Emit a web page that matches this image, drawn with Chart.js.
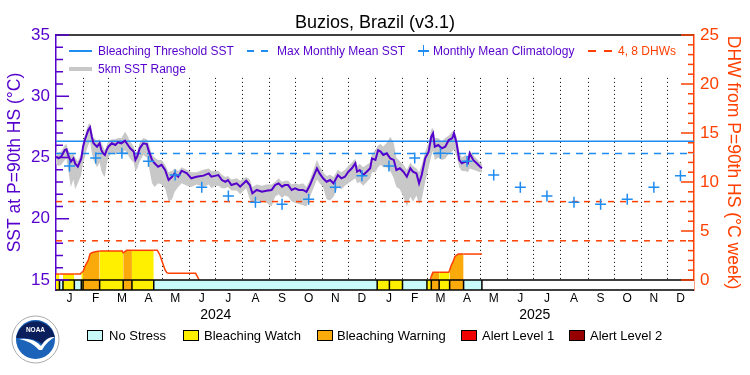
<!DOCTYPE html>
<html>
<head>
<meta charset="utf-8">
<script src="https://cdn.jsdelivr.net/npm/chart.js@4.4.1/dist/chart.umd.min.js"></script>
<style>
  body { margin: 0; background: #fff; font-family: 'Liberation Sans', Arial, sans-serif; }
  #wrap { position: relative; width: 750px; height: 375px; overflow: hidden; }
  canvas { position: absolute; left: 0; top: 0; }
  .t { position: absolute; white-space: nowrap; line-height: 1; }
  .top { font-size: 12px; color: #5500cc; }
  .bot { font-size: 13px; color: #000; }
  .ln { position: absolute; }
  .box { position: absolute; width: 16px; height: 11px; box-sizing: border-box; border: 1px solid #000; top: 330px; }
</style>
</head>
<body>
<div id="wrap">
  <canvas id="chart" width="750" height="375"></canvas>

  <!-- legend inside the plot -->
  <div class="ln" style="left:69px;top:50px;width:23px;height:1.5px;background:#1e8cf0"></div>
  <div class="t top" style="left:98px;top:44.5px">Bleaching Threshold SST</div>
  <div class="ln" style="left:247px;top:50px;width:7px;height:1.5px;background:#1e8cf0"></div>
  <div class="ln" style="left:261px;top:50px;width:7px;height:1.5px;background:#1e8cf0"></div>
  <div class="t top" style="left:277px;top:44.5px">Max Monthly Mean SST</div>
  <div class="ln" style="left:418px;top:50px;width:11px;height:1.5px;background:#1e8cf0"></div>
  <div class="ln" style="left:422.7px;top:45.3px;width:1.5px;height:11px;background:#1e8cf0"></div>
  <div class="t top" style="left:433px;top:44.5px">Monthly Mean Climatology</div>
  <div class="ln" style="left:588px;top:50px;width:8px;height:1.5px;background:#ff4000"></div>
  <div class="ln" style="left:604px;top:50px;width:8px;height:1.5px;background:#ff4000"></div>
  <div class="t top" style="left:618px;top:44.5px;color:#ff4000">4, 8 DHWs</div>
  <div class="ln" style="left:69px;top:67px;width:23px;height:4px;background:#c8c8c8"></div>
  <div class="t top" style="left:98px;top:62.5px">5km SST Range</div>

  <!-- stress legend -->
  <div class="box" style="left:87px;background:#c8fafa"></div>
  <div class="t bot" style="left:109px;top:329px">No Stress</div>
  <div class="box" style="left:183px;background:#fff000"></div>
  <div class="t bot" style="left:204px;top:329px">Bleaching Watch</div>
  <div class="box" style="left:317px;background:#faaa0a"></div>
  <div class="t bot" style="left:337px;top:329px">Bleaching Warning</div>
  <div class="box" style="left:461px;background:#f00000"></div>
  <div class="t bot" style="left:482px;top:329px">Alert Level 1</div>
  <div class="box" style="left:569px;background:#960000"></div>
  <div class="t bot" style="left:590px;top:329px">Alert Level 2</div>

  <!-- NOAA emblem -->
  <svg style="position:absolute;left:11px;top:315px" width="49" height="49" viewBox="0 0 49 49">
    <circle cx="24.5" cy="24.5" r="23.5" fill="#fff" stroke="#aaa" stroke-width="1"/>
    <circle cx="24.5" cy="24.5" r="19.5" fill="#1b63b8"/>
    <path d="M5.2 23 A19.5 19.5 0 0 1 43.8 23 Q37 21 31 29 Q23 22 5.2 23 Z" fill="#0b1f5c"/>
    <path d="M8 24 Q22 22 30 31 Q36 21 44 22 Q36 26 31 35 L28 35 Q20 26 8 24 Z" fill="#fff"/>
    <text x="24.5" y="17" font-size="6.5" font-weight="bold" fill="#fff" text-anchor="middle" font-family="Liberation Sans">NOAA</text>
  </svg>
</div>

<script>
// days counted from 1 Jan 2024
const monthStarts = [0, 31, 60, 91, 121, 152, 182, 213, 244, 274, 305, 335,
                     366, 397, 425, 456, 486, 517, 547, 578, 609, 639, 670, 700, 731];
const monthLetters = ['J', 'F', 'M', 'A', 'M', 'J', 'J', 'A', 'S', 'O', 'N', 'D'];
const yearNames = ['2024', '2025'];
const yearMid = [183, 548.5];

const climatology = [24.3, 24.95, 25.34, 24.7, 23.57, 22.57, 21.86, 21.34, 21.18, 21.59, 22.57, 23.52];
const mmm = 25.32;
const threshold = 26.32;
const dhwLevels = [4, 8];

const sstDays = [0, 3, 6, 10, 12, 14, 17, 20, 22, 25, 29, 31, 33, 35, 37, 39, 41, 43, 47, 50,
  52, 54, 56, 58, 60, 64, 68, 71, 75, 79, 81, 85, 89, 91, 93, 96, 100, 104, 106, 110,
  113, 117, 121, 125, 129, 133, 136, 140, 144, 150, 155, 161, 169, 175, 178, 182, 186, 190, 194, 197,
  201, 207, 211, 215, 218, 222, 225, 230, 236, 241, 247, 251, 255, 259, 262, 266, 270, 274, 278, 283,
  287, 291, 295, 299, 302, 306, 310, 314, 318, 323, 327, 331, 335, 339, 343, 345, 348, 352, 356, 360,
  362, 366, 369, 372, 375, 379, 383, 387, 390, 394, 398, 402, 406, 409, 413, 416, 419, 423, 427, 430,
  432, 434, 438, 442, 446, 450, 454, 456, 459, 462, 465, 469, 472, 474, 478, 482, 486, 488];
const sst = [25.07, 24.93, 25.07, 25.6, 25.66, 25.2, 24.66, 24.93, 24.5, 24.25, 24.93, 25.88, 26.43, 26.84, 27.24, 27.46, 26.7, 26.16, 25.88, 26.16,
  25.6, 25.34, 25.2, 25.6, 25.88, 26.16, 26.02, 26.24, 26.16, 26.37, 26.16, 25.75, 25.48, 24.8, 25.07, 25.75, 26.16, 26.1, 25.6, 24.8,
  24.53, 24.25, 24.4, 23.98, 23.16, 23.43, 23.7, 23.43, 23.92, 23.7, 23.3, 23.43, 23.52, 23.7, 23.43, 23.5, 23.57, 23.16, 23.02, 23.16,
  22.75, 22.89, 22.62, 22.89, 23.1, 22.75, 22.07, 22.35, 22.2, 22.29, 22.35, 22.75, 22.89, 22.62, 22.75, 22.75, 22.35, 22.48, 22.35, 22.35,
  22.2, 22.75, 23.43, 24.12, 23.7, 23.3, 23.02, 23.16, 22.89, 23.57, 23.3, 23.43, 23.84, 24.12, 24.53, 23.84, 23.98, 23.57, 23.84, 24.12,
  24.93, 24.8, 25.6, 25.48, 25.2, 25.34, 24.93, 24.8, 23.98, 24.12, 23.84, 23.43, 24.12, 23.84, 23.7, 22.89, 23.57, 24.93, 25.48, 26.7,
  26.98, 25.88, 26.02, 25.75, 25.88, 26.43, 26.57, 26.98, 26.16, 24.8, 24.53, 24.66, 24.53, 25.34, 24.8, 24.53, 24.25, 24.12];
const sstLo = [24.5, 24.3, 24.4, 24.8, 24.9, 24.0, 22.6, 23.2, 22.4, 22.9, 23.6, 24.6, 25.0, 25.6, 26.0, 26.3, 25.4, 24.8, 24.2, 24.6,
  23.9, 23.6, 23.4, 24.4, 25.0, 25.4, 25.2, 25.5, 25.3, 25.6, 25.4, 24.9, 24.6, 23.9, 24.1, 24.7, 25.2, 25.0, 24.4, 22.9,
  22.6, 22.9, 22.8, 22.5, 21.4, 21.6, 22.2, 22.6, 22.9, 22.7, 22.6, 22.8, 22.6, 22.8, 22.5, 22.7, 22.7, 22.5, 22.5, 22.6,
  22.3, 22.3, 22.0, 22.3, 22.5, 21.6, 21.3, 21.5, 21.4, 21.3, 21.0, 21.8, 22.0, 21.7, 21.9, 21.8, 21.4, 21.3, 21.2, 21.1,
  21.0, 21.8, 22.5, 23.2, 22.9, 22.6, 21.6, 21.5, 21.8, 22.6, 22.4, 22.7, 22.9, 23.1, 23.3, 22.9, 23.0, 22.7, 23.0, 23.3,
  23.8, 23.8, 24.2, 24.4, 24.2, 24.2, 23.9, 23.3, 22.6, 22.4, 21.8, 21.0, 21.8, 21.4, 21.9, 21.2, 21.6, 23.0, 24.2, 25.1,
  25.6, 24.8, 25.0, 24.8, 24.9, 25.3, 25.5, 25.7, 25.1, 24.2, 23.9, 23.9, 23.8, 24.1, 24.0, 23.9, 23.8, 23.8];
const sstHi = [25.5, 25.4, 25.5, 26.0, 26.1, 25.6, 25.2, 25.3, 25.0, 24.7, 25.3, 26.3, 26.8, 27.3, 27.7, 27.8, 27.2, 26.6, 26.4, 26.5,
  26.2, 25.9, 25.6, 26.0, 26.3, 26.5, 26.5, 26.6, 26.6, 27.1, 26.9, 26.3, 25.9, 25.4, 25.5, 26.2, 26.6, 26.5, 26.2, 25.2,
  25.0, 24.8, 24.8, 24.4, 23.8, 23.9, 24.1, 23.9, 24.2, 24.0, 23.8, 23.8, 24.0, 24.1, 23.9, 23.9, 23.9, 23.6, 23.4, 23.5,
  23.2, 23.3, 23.1, 23.3, 23.4, 23.2, 22.6, 22.8, 22.7, 22.8, 22.8, 23.0, 23.3, 23.0, 23.1, 23.1, 22.8, 22.9, 22.8, 22.9,
  22.6, 23.2, 24.0, 24.8, 24.3, 23.8, 23.5, 23.6, 23.4, 24.0, 23.8, 24.0, 24.3, 24.6, 24.9, 24.3, 24.5, 24.2, 24.4, 24.6,
  25.3, 25.6, 26.0, 26.1, 25.9, 26.2, 26.7, 26.2, 25.0, 24.7, 24.4, 24.0, 24.6, 24.3, 24.1, 23.8, 24.4, 25.5, 26.2, 27.3,
  27.4, 26.6, 26.6, 26.3, 26.6, 26.8, 27.1, 27.2, 26.7, 25.5, 25.0, 25.2, 25.0, 25.6, 25.2, 24.9, 24.6, 24.5];

// degree heating weeks, null breaks the line where it is zero
const dhwDays = [0, 4, 8, 21, 28, 29, 31, 33, 35, 37, 39, 41, 45, 50, 76, 77, 79, 81, 87, 112,
  116, 117, 119, 121, 123, 125, 127, 129, 160, 162, 164, 300,
  429, 430, 432, 439, 450, 451, 453, 455, 457, 459, 461, 467, 488];
const dhw = [0.61, 0.61, 0.61, 0.61, 0.61, 0.75, 0.85, 1.36, 1.7, 2.04, 2.65, 2.79, 2.89, 2.96, 2.96, 2.72, 2.9, 3.03, 3.03, 3.03,
  3.03, 2.9, 2.55, 2.04, 1.53, 1.02, 0.75, 0.68, 0.68, 0.34, 0, null,
  0, 0.4, 0.78, 0.78, 0.78, 1.0, 1.53, 1.87, 2.38, 2.55, 2.65, 2.65, 2.65];

// stress level cells: 0 none, 1 watch, 2 warning, 3 alert 1, 4 alert 2
const stressStart = [0, 4, 8, 21, 29, 31, 50, 77, 87, 112, 368, 382, 397, 425, 430, 439, 451, 467];
const stressEnd = [4, 8, 21, 29, 31, 50, 77, 87, 112, 368, 382, 397, 425, 430, 439, 451, 467, 488];
const stressLevel = [1, 0, 1, 0, 1, 2, 1, 2, 1, 0, 1, 1, 0, 1, 2, 1, 2, 0];

const PURPLE = '#5500cc', ORANGE = '#ff4000', BLUE = '#1e8cf0', GRAY = '#c8c8c8';
const barColors = ['#c8fafa', '#fff000', '#faaa0a', '#f00000', '#960000'];
const dhwFill = ['rgba(0,0,0,0)', '#fff000', '#faaa0a', '#f00000', '#960000'];

// axis bounds chosen so 15 °C and 0 DHW share one baseline above the stress strip
const Y_MIN = 14.184, Y_MAX = 35, DHW_MIN = -1.02, DHW_MAX = 25;

function levelAt(d) {
  for (let i = 0; i < stressStart.length; i++) {
    if (d >= stressStart[i] && d < stressEnd[i]) return stressLevel[i];
  }
  return 0;
}

const monthMid = [];
for (let i = 0; i < monthStarts.length - 1; i++) monthMid.push((monthStarts[i] + monthStarts[i + 1]) / 2);

const pts = (xs, ys) => xs.map((x, i) => ({ x: x, y: ys[i] }));
const flat = v => [{ x: 0, y: v }, { x: 731, y: v }];

const decor = {
  id: 'decor',
  beforeDatasetsDraw(chart) {
    const { ctx, scales: { x, y } } = chart;
    const top = y.getPixelForValue(31.5), bot = y.getPixelForValue(15);
    ctx.save();
    ctx.strokeStyle = '#000';
    ctx.lineWidth = 1;
    ctx.setLineDash([1, 3]);
    monthStarts.slice(1, -1).forEach(d => {
      const px = Math.round(x.getPixelForValue(d)) + 0.5;
      ctx.beginPath(); ctx.moveTo(px, top); ctx.lineTo(px, bot); ctx.stroke();
    });
    ctx.restore();
  },
  afterDatasetsDraw(chart) {
    const { ctx, chartArea: a, scales: { x, y, y2 } } = chart;
    ctx.save();
    const barTop = y.getPixelForValue(15);
    ctx.fillStyle = '#fff';
    ctx.fillRect(a.left, barTop, a.right - a.left, a.bottom - barTop);
    stressStart.forEach((s, i) => {
      const x0 = x.getPixelForValue(s), x1 = x.getPixelForValue(stressEnd[i]);
      ctx.fillStyle = barColors[stressLevel[i]];
      ctx.fillRect(x0, barTop, x1 - x0, a.bottom - barTop);
    });
    ctx.strokeStyle = '#000';
    ctx.lineWidth = 1.5;
    const edges = new Set(stressStart.concat(stressEnd));
    edges.forEach(d => {
      if (d === 0) return;
      const px = x.getPixelForValue(d);
      ctx.beginPath(); ctx.moveTo(px, barTop); ctx.lineTo(px, a.bottom); ctx.stroke();
    });
    ctx.beginPath(); ctx.moveTo(a.left, barTop); ctx.lineTo(a.right, barTop); ctx.stroke();
    ctx.beginPath(); ctx.moveTo(a.left, a.bottom); ctx.lineTo(a.right, a.bottom); ctx.stroke();
    ctx.beginPath(); ctx.moveTo(a.left, a.top); ctx.lineTo(a.right, a.top); ctx.stroke();

    // inward tick marks
    ctx.lineWidth = 1.5;
    ctx.strokeStyle = PURPLE;
    for (let v = 15; v <= 35; v++) {
      const py = y.getPixelForValue(v);
      ctx.beginPath(); ctx.moveTo(a.left, py); ctx.lineTo(a.left + (v % 5 === 0 ? 13 : 7), py); ctx.stroke();
    }
    ctx.strokeStyle = ORANGE;
    for (let v = 0; v <= 25; v++) {
      const py = y2.getPixelForValue(v);
      ctx.beginPath(); ctx.moveTo(a.right, py); ctx.lineTo(a.right - (v % 5 === 0 ? 13 : 6), py); ctx.stroke();
    }
    ctx.restore();
  },
  afterDraw(chart) {
    const { ctx, chartArea: a, scales: { x } } = chart;
    ctx.save();
    ctx.fillStyle = '#000';
    ctx.font = "14px 'Liberation Sans'";
    ctx.textAlign = 'center';
    ctx.textBaseline = 'middle';
    yearNames.forEach((n, i) => ctx.fillText(n, x.getPixelForValue(yearMid[i]), a.bottom + 25));
    ctx.restore();
  }
};

Chart.defaults.font.family = "'Liberation Sans', Arial, sans-serif";
Chart.defaults.color = '#000';

new Chart(document.getElementById('chart'), {
  type: 'line',
  data: {
    datasets: [
      { data: pts(sstDays, sstHi), borderWidth: 0, pointRadius: 0, fill: false, order: 20 },
      { data: pts(sstDays, sstLo), borderWidth: 0, pointRadius: 0, fill: '-1', backgroundColor: GRAY, order: 19 },
      { data: flat(threshold), borderColor: BLUE, borderWidth: 1.5, pointRadius: 0, order: 10 },
      { data: flat(mmm), borderColor: BLUE, borderWidth: 1.5, borderDash: [7, 6], pointRadius: 0, order: 10 },
      { data: flat(dhwLevels[0]), yAxisID: 'y2', borderColor: ORANGE, borderWidth: 1.5, borderDash: [6, 6], pointRadius: 0, order: 9 },
      { data: flat(dhwLevels[1]), yAxisID: 'y2', borderColor: ORANGE, borderWidth: 1.5, borderDash: [6, 6], pointRadius: 0, order: 9 },
      {
        data: pts(dhwDays, dhw), yAxisID: 'y2', borderColor: ORANGE, borderWidth: 1.5, pointRadius: 0,
        fill: 'origin', backgroundColor: 'rgba(0,0,0,0)', order: 8,
        segment: { backgroundColor: c => dhwFill[levelAt((c.p0.parsed.x + c.p1.parsed.x) / 2)] }
      },
      { data: pts(sstDays, sst), borderColor: PURPLE, borderWidth: 2, pointRadius: 0, order: 2 },
      {
        data: monthMid.map((m, i) => ({ x: m, y: climatology[i % 12] })), showLine: false,
        pointStyle: 'cross', pointRadius: 5.5, borderColor: BLUE, borderWidth: 1.5, order: 1
      }
    ]
  },
  options: {
    responsive: false,
    animation: false,
    layout: { padding: 0 },
    elements: { line: { tension: 0 } },
    plugins: {
      legend: { display: false },
      tooltip: { enabled: false },
      title: {
        display: true, text: 'Buzios, Brazil (v3.1)', color: '#000',
        font: { size: 18, weight: 'normal' }, padding: { top: 12, bottom: 1.4 }
      }
    },
    scales: {
      x: {
        type: 'linear', min: 0, max: 731,
        grid: { display: false, drawTicks: false },
        border: { display: false },
        afterBuildTicks: s => { s.ticks = monthMid.map(v => ({ value: v })); },
        afterFit: s => { s.height = 85; },
        ticks: { autoSkip: false, maxRotation: 0, padding: 1, font: { size: 12 }, callback: (v, i) => monthLetters[i % 12] }
      },
      y: {
        position: 'left', min: Y_MIN, max: Y_MAX,
        grid: { display: false, drawTicks: false },
        border: { display: true, color: PURPLE, width: 1.5 },
        afterBuildTicks: s => { s.ticks = [15, 20, 25, 30, 35].map(v => ({ value: v })); },
        afterFit: s => { s.width = 56; },
        ticks: { color: PURPLE, padding: 6, font: { size: 17 } },
        title: { display: true, text: 'SST at P=90th HS (°C)', color: PURPLE, font: { size: 17.5 }, padding: { top: 5, bottom: 0 } }
      },
      y2: {
        position: 'right', min: DHW_MIN, max: DHW_MAX,
        grid: { display: false, drawTicks: false },
        border: { display: true, color: ORANGE, width: 1.5 },
        afterBuildTicks: s => { s.ticks = [0, 5, 10, 15, 20, 25].map(v => ({ value: v })); },
        afterFit: s => { s.width = 56; },
        ticks: { color: ORANGE, padding: 6, font: { size: 17 } },
        title: { display: true, text: 'DHW from P=90th HS (°C week)', color: ORANGE, font: { size: 17.5 }, padding: { top: 7, bottom: 0 } }
      }
    }
  },
  plugins: [decor]
});
</script>
</body>
</html>
